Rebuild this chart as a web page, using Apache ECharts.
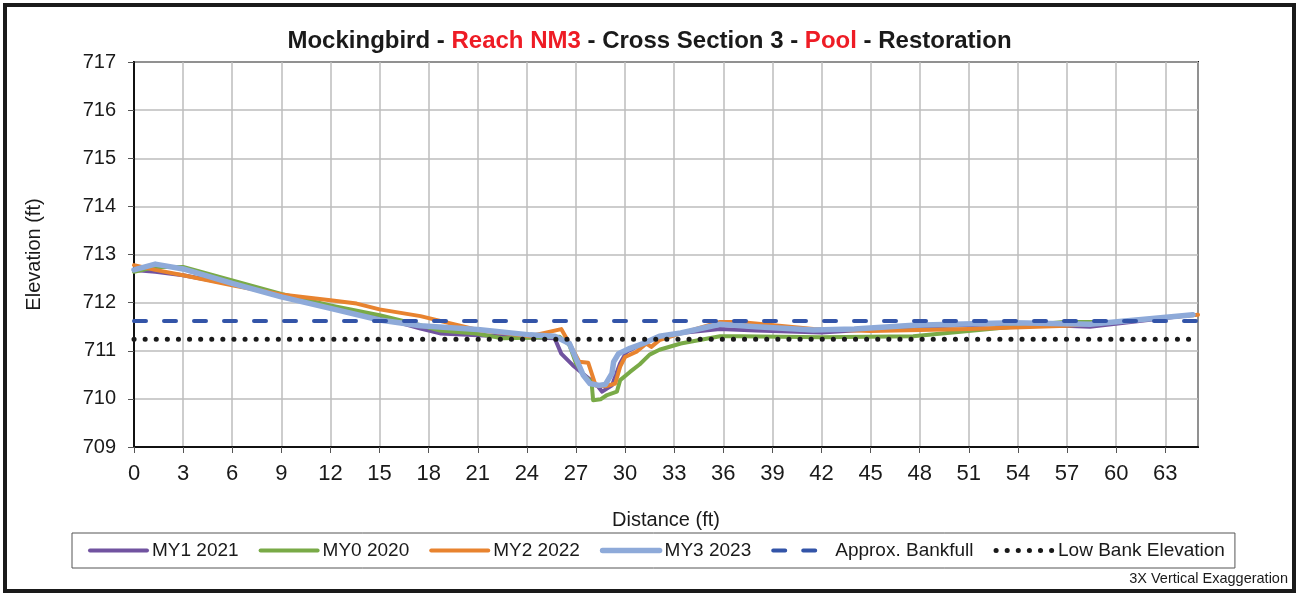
<!DOCTYPE html>
<html>
<head>
<meta charset="utf-8">
<script src="https://cdn.jsdelivr.net/npm/echarts@6/dist/echarts.min.js"></script>
<style>
html,body{margin:0;padding:0;background:#fff;}
#chart{width:1299px;height:594px;}
</style>
</head>
<body>
<div id="chart"></div>
<script>
// ---- Data (distance ft, elevation ft) ----
const my1_2021 = [[0,712.68],[1.3,712.64],[3,712.57],[6,712.38],[9,712.15],[12,711.92],[15,711.7],[17.5,711.46],[18.7,711.36],[21,711.32],[24,711.28],[25.7,711.26],[26.1,710.94],[26.8,710.7],[27.65,710.46],[28.3,710.28],[28.6,710.15],[29.2,710.28],[29.7,710.74],[30.1,710.98],[31.1,711.15],[32.1,711.3],[33.4,711.37],[35.8,711.45],[38,711.42],[42,711.38],[47.6,711.5],[53.7,711.56],[58.4,711.5],[64.7,711.75]];
const my0_2020 = [[0,712.64],[1.3,712.74],[3,712.74],[6,712.46],[9,712.18],[12,711.94],[15,711.74],[17.5,711.53],[18.7,711.42],[20.9,711.36],[22.5,711.26],[24.2,711.27],[26,711.29],[26.6,711.12],[27,710.74],[27.55,710.46],[27.95,710.36],[28.05,709.97],[28.5,709.99],[28.9,710.08],[29.5,710.15],[29.7,710.39],[30.3,710.56],[30.9,710.72],[31.5,710.92],[32.1,711.02],[33.4,711.15],[35.8,711.3],[37,711.3],[42,711.28],[47.6,711.3],[53.7,711.5],[56.8,711.6],[60,711.6],[64.7,711.75]];
const my2_2022 = [[0,712.78],[1.3,712.68],[3,712.57],[6,712.36],[9,712.17],[12,712.05],[13.6,711.98],[15,711.86],[17.5,711.72],[21,711.43],[24.2,711.3],[26.1,711.45],[26.6,711.15],[27.2,710.77],[27.75,710.75],[28.2,710.28],[28.8,710.26],[29.4,710.32],[29.7,710.67],[30,710.87],[30.7,710.98],[31.3,711.15],[31.6,711.08],[32.1,711.22],[33.4,711.36],[35.8,711.6],[37,711.6],[41.5,711.45],[45,711.41],[51,711.45],[57,711.52],[60,711.6],[65,711.75]];
const my3_2023 = [[0,712.68],[1.3,712.8],[3,712.7],[6,712.4],[9,712.12],[12,711.88],[15,711.64],[17.5,711.52],[21,711.44],[24.2,711.33],[25.7,711.3],[26.6,711.15],[27,710.84],[27.45,710.49],[27.85,710.32],[28.4,710.28],[28.8,710.3],[29.2,710.53],[29.3,710.77],[29.6,710.94],[30.3,711.05],[31.1,711.15],[32.1,711.3],[33.4,711.37],[35.8,711.55],[38,711.5],[41.5,711.43],[44,711.45],[47.6,711.53],[53.7,711.58],[58.4,711.55],[64.7,711.75]];
const bankfull = [[0,711.62],[65,711.62]];
const lowBank = [[0,711.24],[65,711.24]];
const seriesNames = ['MY1 2021','MY0 2020','MY2 2022','MY3 2023','Approx. Bankfull','Low Bank Elevation'];

const FONT = '"Liberation Sans", Arial, sans-serif';
const chart = echarts.init(document.getElementById('chart'));
function lineSeries(name, data, color, width, extra) {
  return Object.assign({
    name: name, type: 'line', data: data, symbol: 'none', smooth: false,
    lineStyle: { color: color, width: width, join: 'round', cap: 'round' },
    itemStyle: { color: color }, animation: false
  }, extra || {});
}
chart.setOption({
  backgroundColor: '#fff',
  animation: false,
  title: {
    text: '{a|Mockingbird - }{r|Reach NM3}{a| - Cross Section 3 - }{r|Pool}{a| - Restoration}',
    left: 'center', top: 24,
    textStyle: {
      fontFamily: FONT, fontSize: 24, fontWeight: 'bold',
      rich: {
        a: { fontFamily: FONT, fontSize: 24, fontWeight: 'bold', color: '#1a1a1a' },
        r: { fontFamily: FONT, fontSize: 24, fontWeight: 'bold', color: '#ee1c25' }
      }
    }
  },
  grid: { left: 134, top: 62, width: 1064, height: 385, show: true, borderColor: '#111', borderWidth: 2, backgroundColor: 'transparent' },
  xAxis: {
    type: 'value', min: 0, max: 65, interval: 3,
    name: 'Distance (ft)', nameLocation: 'middle', nameGap: 63,
    nameTextStyle: { fontFamily: FONT, fontSize: 20, color: '#1a1a1a' },
    axisLine: { show: true, lineStyle: { color: '#111', width: 2 } },
    axisTick: { show: true, length: 6, inside: false, lineStyle: { color: '#555', width: 1 } },
    axisLabel: { fontFamily: FONT, fontSize: 22, color: '#1a1a1a', margin: 16, showMaxLabel: false },
    splitLine: { show: true, lineStyle: { color: '#bdbdbd', width: 1.5 } }
  },
  yAxis: {
    type: 'value', min: 709, max: 717, interval: 1,
    name: 'Elevation (ft)', nameLocation: 'middle', nameGap: 90, nameRotate: 90,
    nameTextStyle: { fontFamily: FONT, fontSize: 20, color: '#1a1a1a' },
    axisLine: { show: true, lineStyle: { color: '#111', width: 2 } },
    axisTick: { show: true, length: 6, lineStyle: { color: '#555', width: 1 } },
    axisLabel: { fontFamily: FONT, fontSize: 20, color: '#1a1a1a', margin: 18 },
    splitLine: { show: true, lineStyle: { color: '#bdbdbd', width: 1.5 } }
  },
  legend: {
    data: seriesNames, left: 72, top: 533,
    itemWidth: 57, itemHeight: 14, itemGap: 20,
    padding: [8, 10, 8, 16],
    borderColor: '#555', borderWidth: 1,
    itemStyle: { opacity: 0, borderWidth: 0 },
    lineStyle: { width: 'inherit', type: 'inherit', cap: 'round' },
    textStyle: { fontFamily: FONT, fontSize: 19, color: '#1a1a1a' }
  },
  series: [
    lineSeries(seriesNames[0], my1_2021, '#7153a0', 4),
    lineSeries(seriesNames[1], my0_2020, '#79aa47', 4),
    lineSeries(seriesNames[2], my2_2022, '#e8832f', 4),
    lineSeries(seriesNames[3], my3_2023, '#8eaad9', 5.5),
    lineSeries(seriesNames[4], bankfull, '#3354a8', 4, { lineStyle: { color: '#3354a8', width: 4, type: [12, 18], cap: 'round' } }),
    lineSeries(seriesNames[5], lowBank, '#1a1a1a', 5, { lineStyle: { color: '#1a1a1a', width: 5, type: [0.1, 11], cap: 'round' } })
  ],
  graphic: [
    { type: 'rect', shape: { x: 5, y: 5, width: 1289, height: 586 }, style: { fill: 'none', stroke: '#1a1a1a', lineWidth: 4 }, silent: true },
    { type: 'text', right: 11, top: 571, style: { text: '3X Vertical Exaggeration', font: '14.5px "Liberation Sans", Arial, sans-serif', fill: '#1a1a1a' } }
  ]
});
</script>
</body>
</html>
